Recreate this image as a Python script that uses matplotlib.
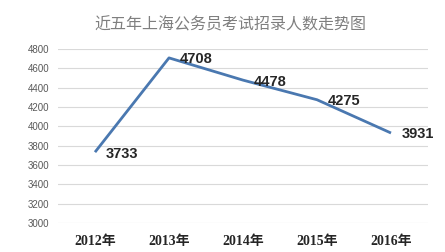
import numpy as np
import matplotlib.pyplot as plt

years = ['2012年', '2013年', '2014年', '2015年', '2016年']
counts = [3733, 4708, 4478, 4275, 3931]
yticks = [3000, 3200, 3400, 3600, 3800, 4000, 4200, 4400, 4600, 4800]

plt.rcParams['font.family'] = ['Noto Sans CJK SC', 'DejaVu Sans']

fig = plt.figure(figsize=(4.45, 2.52), dpi=100)
ax = fig.add_axes([58/445, 1 - 223/252, 370/445, (223 - 49)/252])

x = np.arange(len(years))
ax.plot(x, counts, color='#4a78b0', linewidth=2.0, solid_capstyle='butt')

ax.set_xlim(-0.5, 4.5)
ax.set_ylim(3000, 4800)
ax.set_yticks(yticks)
ax.set_yticklabels([str(v) for v in yticks], fontsize=7, color='#595959', family='Liberation Sans')
ax.set_xticks(x)
ax.set_xticklabels(years, fontsize=10, fontweight='bold', family=['Liberation Serif', 'Noto Sans CJK SC'], color='#262626')
ax.tick_params(length=0, axis='both')
ax.tick_params(axis='y', pad=6)
ax.tick_params(axis='x', pad=9)
ax.grid(axis='y', color='#d9d9d9', linewidth=0.8)
for s in ax.spines.values():
    s.set_visible(False)

for xi, v in zip(x, counts):
    ax.annotate(str(v), (xi, v), xytext=(7.5, -1), textcoords='offset points',
                fontsize=10.5, fontweight='bold', color='#262626', family='Liberation Sans',
                va='center', ha='left')

fig.text(230/445, 1 - 25/252, '近五年上海公务员考试招录人数走势图', ha='center', va='center',
         fontsize=11.5, color='#7f7f7f')

fig.savefig('out.png', dpi=100)
